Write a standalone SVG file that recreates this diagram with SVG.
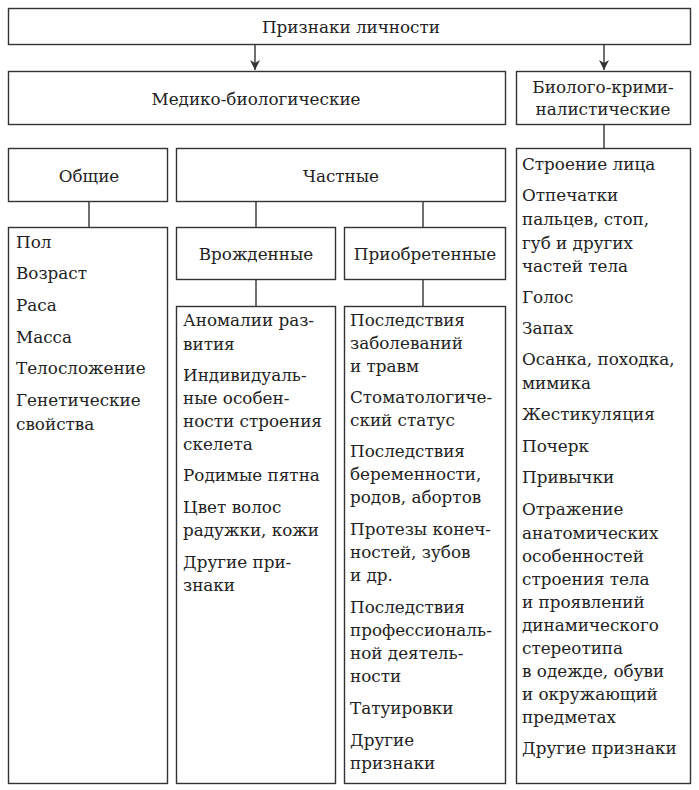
<svg xmlns="http://www.w3.org/2000/svg" width="699" height="790" viewBox="0 0 699 790">
<style>
rect{fill:#fff;stroke:#333;stroke-width:1.4}
text{font-family:"DejaVu Serif","Liberation Serif",serif;font-size:16.8px;fill:#222}
.c{text-anchor:middle}
#conn line{stroke:#333;stroke-width:1.4}
</style>
<defs>
<marker id="ah" markerWidth="10" markerHeight="12" refX="10" refY="5" orient="auto" markerUnits="userSpaceOnUse">
<path d="M0,0 L10,5 L0,10 L3,5 Z" fill="#333"/>
</marker>
</defs>
<rect width="699" height="790" style="fill:#fff;stroke:none"/>
<g id="conn">
<line x1="255" y1="44" x2="255" y2="70" marker-end="url(#ah)"/>
<line x1="604" y1="44" x2="604" y2="70" marker-end="url(#ah)"/>
<line x1="604" y1="124" x2="604" y2="148"/>
<line x1="89" y1="201" x2="89" y2="227"/>
<line x1="256" y1="201" x2="256" y2="227"/>
<line x1="423" y1="201" x2="423" y2="227"/>
<line x1="256" y1="279" x2="256" y2="306"/>
<line x1="423" y1="279" x2="423" y2="306"/>
</g>
<g id="top"><rect x="8.5" y="8.5" width="682" height="36"/><text class="c" x="351" y="33">Признаки личности</text></g>
<g id="medbio"><rect x="8.5" y="71.5" width="497" height="53"/><text class="c" x="256" y="105">Медико-биологические</text></g>
<g id="biocrim"><rect x="516.5" y="71.5" width="174" height="53"/><text class="c" x="603" y="93">Биолого-крими-</text><text class="c" x="603" y="115">налистические</text></g>
<g id="obshie"><rect x="8.5" y="148.5" width="159" height="53"/><text class="c" x="89" y="182">Общие</text></g>
<g id="chastnye"><rect x="176.5" y="148.5" width="329" height="53"/><text class="c" x="341" y="182">Частные</text></g>
<g id="vrozh"><rect x="176.5" y="227.5" width="159" height="52"/><text class="c" x="256" y="260">Врожденные</text></g>
<g id="priobr"><rect x="344.5" y="227.5" width="161" height="52"/><text class="c" x="425" y="260">Приобретенные</text></g>
<g id="obshie-list"><rect x="8.5" y="227.5" width="159" height="556"/>
<text x="16" y="248">Пол</text>
<text x="16" y="279">Возраст</text>
<text x="16" y="311">Раса</text>
<text x="16" y="343">Масса</text>
<text x="16" y="374">Телосложение</text>
<text x="16" y="406">Генетические</text>
<text x="16" y="430">свойства</text>
</g>
<g id="vrozh-list"><rect x="176.5" y="306.5" width="159" height="477"/>
<text x="183" y="326">Аномалии раз-</text>
<text x="183" y="350">вития</text>
<text x="183" y="381">Индивидуаль-</text>
<text x="183" y="404">ные особен-</text>
<text x="183" y="427">ности строения</text>
<text x="183" y="450">скелета</text>
<text x="183" y="481">Родимые пятна</text>
<text x="183" y="513">Цвет волос</text>
<text x="183" y="536">радужки, кожи</text>
<text x="183" y="568">Другие при-</text>
<text x="183" y="591">знаки</text>
</g>
<g id="priobr-list"><rect x="344.5" y="306.5" width="161" height="477"/>
<text x="350" y="326">Последствия</text>
<text x="350" y="349">заболеваний</text>
<text x="350" y="372">и травм</text>
<text x="350" y="403">Стоматологиче-</text>
<text x="350" y="426">ский статус</text>
<text x="350" y="457">Последствия</text>
<text x="350" y="480">беременности,</text>
<text x="350" y="503">родов, абортов</text>
<text x="350" y="535">Протезы конеч-</text>
<text x="350" y="558">ностей, зубов</text>
<text x="350" y="581">и др.</text>
<text x="350" y="613">Последствия</text>
<text x="350" y="636">профессиональ-</text>
<text x="350" y="659">ной деятель-</text>
<text x="350" y="682">ности</text>
<text x="350" y="714">Татуировки</text>
<text x="350" y="746">Другие</text>
<text x="350" y="769">признаки</text>
</g>
<g id="bio-list"><rect x="516.5" y="148.5" width="174" height="635"/>
<text x="522" y="170">Строение лица</text>
<text x="522" y="201">Отпечатки</text>
<text x="522" y="225">пальцев, стоп,</text>
<text x="522" y="249">губ и других</text>
<text x="522" y="272">частей тела</text>
<text x="522" y="303">Голос</text>
<text x="522" y="334">Запах</text>
<text x="522" y="365">Осанка, походка,</text>
<text x="522" y="389">мимика</text>
<text x="522" y="420">Жестикуляция</text>
<text x="522" y="452">Почерк</text>
<text x="522" y="483">Привычки</text>
<text x="522" y="515">Отражение</text>
<text x="522" y="539">анатомических</text>
<text x="522" y="562">особенностей</text>
<text x="522" y="585">строения тела</text>
<text x="522" y="608">и проявлений</text>
<text x="522" y="631">динамического</text>
<text x="522" y="654">стереотипа</text>
<text x="522" y="677">в одежде, обуви</text>
<text x="522" y="700">и окружающий</text>
<text x="522" y="723">предметах</text>
<text x="522" y="754">Другие признаки</text>
</g>
</svg>
